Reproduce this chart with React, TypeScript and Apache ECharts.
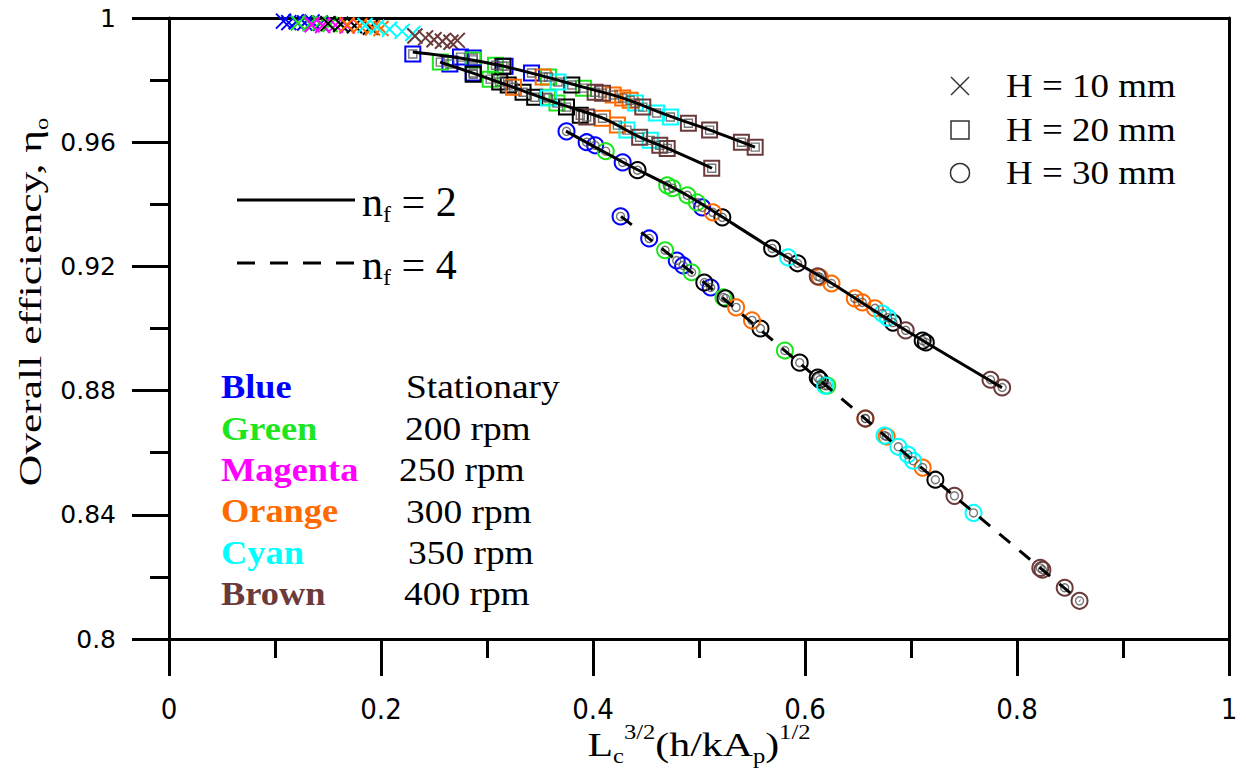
import { useEffect, useRef } from "react";
import * as echarts from "echarts";

type Pt = [number, number];

// ---------- axes ----------
const X_MIN = 0;
const X_MAX = 1;
const X_STEP = 0.2;
const Y_MIN = 0.8;
const Y_MAX = 1;
const Y_STEP = 0.04;

// ---------- legend texts ----------
const COLOR_NAMES = ["Blue", "Green", "Magenta", "Orange", "Cyan", "Brown"];
const SPEED_LABELS = ["Stationary", "200 rpm", "250 rpm", "300 rpm", "350 rpm", "400 rpm"];
const H_LABELS = ["H = 10 mm", "H = 20 mm", "H = 30 mm"];
const NF_LABELS = ["2", "4"];

const PALETTE: Record<string, string> = {
  Blue: "#0000ff",
  Green: "#1ee61e",
  Magenta: "#ff00ff",
  Orange: "#ff6a00",
  Cyan: "#00ffff",
  Brown: "#6b3a3a",
  Black: "#000000",
};

// ---------- H = 10 mm (crosses) ----------
const h10Blue: Pt[] = [[0.108, 0.999], [0.113, 0.9985], [0.12, 0.9988], [0.128, 0.9984], [0.135, 0.9987], [0.143, 0.9983]];
const h10Green: Pt[] = [[0.122, 0.9984], [0.133, 0.9981], [0.142, 0.9984], [0.152, 0.9979], [0.162, 0.9978]];
const h10Magenta: Pt[] = [[0.135, 0.9978], [0.145, 0.9976], [0.157, 0.9977], [0.168, 0.9974]];
const h10Black: Pt[] = [[0.15, 0.9982], [0.162, 0.998], [0.175, 0.9975], [0.19, 0.997]];
const h10Orange: Pt[] = [[0.168, 0.9978], [0.18, 0.9975], [0.192, 0.9968], [0.2, 0.9966]];
const h10Cyan: Pt[] = [[0.185, 0.9976], [0.196, 0.997], [0.208, 0.9964], [0.22, 0.9957], [0.23, 0.995]];
const h10Brown: Pt[] = [[0.232, 0.9942], [0.242, 0.9936], [0.25, 0.993], [0.258, 0.9925], [0.266, 0.9922], [0.272, 0.9928]];

// ---------- H = 20 mm (squares), upper band ----------
const h20aBlue: Pt[] = [[0.23, 0.9884], [0.275, 0.9874], [0.287, 0.9871], [0.317, 0.9845], [0.342, 0.9823]];
const h20aGreen: Pt[] = [[0.287, 0.9865], [0.308, 0.9848], [0.358, 0.981], [0.391, 0.9774]];
const h20aBlack: Pt[] = [[0.315, 0.9845], [0.38, 0.9784]];
const h20aOrange: Pt[] = [[0.353, 0.981], [0.419, 0.9752], [0.428, 0.9742], [0.435, 0.9735]];
const h20aCyan: Pt[] = [[0.367, 0.9794], [0.44, 0.9726], [0.46, 0.9694], [0.473, 0.9681]];
const h20aBrown: Pt[] = [[0.402, 0.9761], [0.409, 0.9758], [0.447, 0.9713], [0.49, 0.9661], [0.51, 0.9639], [0.54, 0.96], [0.553, 0.9584]];

// ---------- H = 20 mm (squares), lower band ----------
const h20bBlue: Pt[] = [[0.265, 0.9852], [0.287, 0.9823]];
const h20bGreen: Pt[] = [[0.256, 0.9858], [0.303, 0.9803], [0.357, 0.9745], [0.366, 0.9726]];
const h20bBlack: Pt[] = [[0.287, 0.9819], [0.312, 0.9794], [0.32, 0.9784], [0.334, 0.9761], [0.345, 0.9745], [0.375, 0.9713], [0.388, 0.9687]];
const h20bOrange: Pt[] = [[0.325, 0.9777], [0.409, 0.9677], [0.423, 0.9655]];
const h20bCyan: Pt[] = [[0.358, 0.9742], [0.432, 0.9639], [0.454, 0.9606]];
const h20bBrown: Pt[] = [[0.394, 0.9681], [0.444, 0.9616], [0.463, 0.959], [0.47, 0.958], [0.512, 0.9516]];

// ---------- H = 30 mm (circles), n_f = 2 ----------
const h30aBlue: Pt[] = [[0.375, 0.9635], [0.394, 0.96], [0.402, 0.959], [0.428, 0.9535], [0.503, 0.939]];
const h30aGreen: Pt[] = [[0.412, 0.9571], [0.47, 0.9461], [0.475, 0.9452], [0.489, 0.9429], [0.498, 0.9406]];
const h30aBlack: Pt[] = [[0.442, 0.951], [0.522, 0.9358], [0.569, 0.9258], [0.593, 0.921], [0.683, 0.9019], [0.711, 0.8961], [0.714, 0.8955]];
const h30aOrange: Pt[] = [[0.513, 0.9374], [0.614, 0.9165], [0.625, 0.9145], [0.647, 0.9097], [0.654, 0.9084], [0.666, 0.9065]];
const h30aCyan: Pt[] = [[0.584, 0.9229], [0.673, 0.9048], [0.678, 0.9035]];
const h30aBrown: Pt[] = [[0.612, 0.9168], [0.695, 0.8994], [0.775, 0.8835], [0.786, 0.881]];

// ---------- H = 30 mm (circles), n_f = 4 ----------
const h30bBlue: Pt[] = [[0.426, 0.9361], [0.453, 0.929], [0.479, 0.9219], [0.485, 0.9203], [0.511, 0.9132]];
const h30bGreen: Pt[] = [[0.468, 0.9252], [0.493, 0.9181], [0.523, 0.91], [0.581, 0.8929], [0.621, 0.8816]];
const h30bBlack: Pt[] = [[0.505, 0.9148], [0.525, 0.9097], [0.558, 0.9], [0.595, 0.889], [0.612, 0.8842], [0.614, 0.8835], [0.723, 0.8513]];
const h30bOrange: Pt[] = [[0.535, 0.9068], [0.55, 0.9026], [0.657, 0.871], [0.677, 0.8652], [0.711, 0.8552]];
const h30bCyan: Pt[] = [[0.619, 0.8816], [0.675, 0.8655], [0.688, 0.8619], [0.697, 0.8594], [0.702, 0.8574], [0.759, 0.8406]];
const h30bBrown: Pt[] = [[0.657, 0.871], [0.741, 0.8461], [0.822, 0.8229], [0.824, 0.8223], [0.845, 0.8165], [0.859, 0.8123]];

// ---------- model curves ----------
const lineH20a: Pt[] = [[0.23, 0.98903], [0.2745, 0.9871], [0.3151, 0.98452], [0.3528, 0.98129], [0.3906, 0.97774], [0.4283, 0.97419], [0.4726, 0.96839], [0.5104, 0.96387], [0.5528, 0.95839]];
const lineH20b: Pt[] = [[0.2557, 0.98581], [0.2868, 0.98226], [0.3245, 0.97774], [0.366, 0.97258], [0.4094, 0.96774], [0.4443, 0.96161], [0.4698, 0.95806], [0.5123, 0.95161]];
const lineH30a: Pt[] = [[0.3745, 0.96355], [0.4283, 0.95355], [0.4887, 0.9429], [0.5689, 0.92581], [0.6255, 0.91452], [0.683, 0.90194], [0.7858, 0.88097]];
const lineH30b: Pt[] = [[0.4264, 0.93613], [0.5047, 0.91484], [0.5953, 0.88871], [0.6566, 0.87097], [0.7406, 0.84613], [0.8594, 0.81226]];

const CROSS = "path://M0 0L10 10M10 0L0 10";
const SERIF = "'Liberation Serif', 'Times New Roman', serif";

type Group = { sym: string; size: number; bw: number; inner: boolean; sets: [string, Pt[]][] };

const GROUPS: Group[] = [
  { sym: CROSS, size: 15, bw: 2, inner: false, sets: [["Blue", h10Blue], ["Green", h10Green], ["Magenta", h10Magenta], ["Black", h10Black], ["Orange", h10Orange], ["Cyan", h10Cyan], ["Brown", h10Brown]] },
  { sym: "rect", size: 15, bw: 2, inner: true, sets: [["Blue", h20aBlue], ["Green", h20aGreen], ["Black", h20aBlack], ["Orange", h20aOrange], ["Cyan", h20aCyan], ["Brown", h20aBrown]] },
  { sym: "rect", size: 15, bw: 2, inner: true, sets: [["Blue", h20bBlue], ["Green", h20bGreen], ["Black", h20bBlack], ["Orange", h20bOrange], ["Cyan", h20bCyan], ["Brown", h20bBrown]] },
  { sym: "circle", size: 16, bw: 2, inner: true, sets: [["Blue", h30aBlue], ["Green", h30aGreen], ["Black", h30aBlack], ["Orange", h30aOrange], ["Cyan", h30aCyan], ["Brown", h30aBrown]] },
  { sym: "circle", size: 16, bw: 2, inner: true, sets: [["Blue", h30bBlue], ["Green", h30bGreen], ["Black", h30bBlack], ["Orange", h30bOrange], ["Cyan", h30bCyan], ["Brown", h30bBrown]] },
];

const LINES: { data: Pt[]; dashed: boolean }[] = [
  { data: lineH20a, dashed: false },
  { data: lineH20b, dashed: false },
  { data: lineH30a, dashed: false },
  { data: lineH30b, dashed: true },
];

function txt(x: number, y: number, style: any, extra: any = {}) {
  return {
    type: "text",
    x,
    y,
    ...extra,
    style: {
      fill: "#000",
      align: "left",
      verticalAlign: "middle",
      textAlign: "left",
      textVerticalAlign: "middle",
      ...style,
    },
  };
}

function buildOption() {
  const series: any[] = [];
  GROUPS.forEach((g, gi) => {
    g.sets.forEach(([cname, pts]) => {
      series.push({
        type: "scatter",
        name: `g${gi}-${cname}`,
        data: pts,
        symbol: g.sym,
        symbolSize: g.size,
        z: 2,
        itemStyle: { color: "transparent", borderColor: PALETTE[cname], borderWidth: g.bw, opacity: 1 },
      });
    });
    if (g.inner) {
      series.push({
        type: "scatter",
        name: `g${gi}-inner`,
        data: g.sets.flatMap((s) => s[1]),
        symbol: g.sym,
        symbolSize: 8,
        z: 3,
        itemStyle: { color: "transparent", borderColor: "#555555", borderWidth: 1.4 },
      });
    }
  });
  LINES.forEach((l, i) => {
    series.push({
      type: "line",
      name: `model-${i}`,
      data: l.data,
      showSymbol: false,
      symbol: "none",
      smooth: 0.3,
      z: 4,
      lineStyle: { color: "#000", width: 3, type: l.dashed ? [14, 12] : "solid" },
    });
  });

  const graphic: any[] = [];
  // y axis title
  graphic.push(
    txt(
      30,
      302,
      {
        text: "{m|Overall efficiency, η}{s|o}",
        align: "center",
        textAlign: "center",
        fontFamily: SERIF,
        fontSize: 32,
        rich: {
          m: { fontFamily: SERIF, fontSize: 32, lineHeight: 42, fill: "#000" },
          s: { fontFamily: SERIF, fontSize: 18, lineHeight: 12, verticalAlign: "bottom", fill: "#000" },
        },
      },
      { rotation: Math.PI / 2, scaleX: 1.36 }
    )
  );
  // x axis title
  graphic.push(
    txt(
      699,
      744,
      {
        text: "{m|L}{sub|c}{sup|3/2}{m|(h/kA}{sub|p}{m|)}{sup|1/2}",
        align: "center",
        textAlign: "center",
        fontFamily: SERIF,
        fontSize: 34,
        rich: {
          m: { fontFamily: SERIF, fontSize: 34, lineHeight: 44, fill: "#000" },
          sub: { fontFamily: SERIF, fontSize: 20, lineHeight: 12, verticalAlign: "bottom", fill: "#000" },
          sup: { fontFamily: SERIF, fontSize: 20, lineHeight: 34, verticalAlign: "top", fill: "#000" },
        },
      },
      { scaleX: 1.23 }
    )
  );
  // H legend (top right)
  const hy = [86, 130, 173];
  const symStyle = { stroke: "#333", lineWidth: 1.5, fill: "none" };
  graphic.push({ type: "line", shape: { x1: 951, y1: 77, x2: 969, y2: 95 }, style: symStyle });
  graphic.push({ type: "line", shape: { x1: 969, y1: 77, x2: 951, y2: 95 }, style: symStyle });
  graphic.push({ type: "rect", shape: { x: 951, y: 121, width: 18, height: 18 }, style: symStyle });
  graphic.push({ type: "circle", shape: { cx: 960, cy: 173, r: 9.5 }, style: symStyle });
  H_LABELS.forEach((t, i) => {
    graphic.push(txt(1006, hy[i], { text: t, fontFamily: SERIF, fontSize: 33 }, { scaleX: 1.12 }));
  });
  // n_f legend
  const ny = [200, 263];
  graphic.push({ type: "line", shape: { x1: 237, y1: ny[0], x2: 355, y2: ny[0] }, style: { stroke: "#000", lineWidth: 3 } });
  graphic.push({ type: "line", shape: { x1: 237, y1: ny[1], x2: 355, y2: ny[1] }, style: { stroke: "#000", lineWidth: 3, lineDash: [18, 15] } });
  NF_LABELS.forEach((v, i) => {
    graphic.push(
      txt(362, ny[i] + 2, {
        text: `{m|n}{s|f}{m| = ${v}}`,
        fontFamily: SERIF,
        fontSize: 42,
        rich: {
          m: { fontFamily: SERIF, fontSize: 42, lineHeight: 48, fill: "#000" },
          s: { fontFamily: SERIF, fontSize: 24, lineHeight: 14, verticalAlign: "bottom", fill: "#000" },
        },
      })
    );
  });
  // colour legend
  const cy0 = 387;
  const cdy = 41.4;
  const rightX = [406, 405, 399, 406, 408, 404];
  COLOR_NAMES.forEach((c, i) => {
    graphic.push(txt(221, cy0 + i * cdy, { text: c, fontFamily: SERIF, fontWeight: "bold", fontSize: 34, fill: PALETTE[c] }, { scaleX: 1.07 }));
    graphic.push(txt(rightX[i], cy0 + i * cdy, { text: SPEED_LABELS[i], fontFamily: SERIF, fontSize: 34 }, { scaleX: 1.1 }));
  });

  const axisLine = { show: true, onZero: false, lineStyle: { color: "#000", width: 3 } };

  return {
    animation: false,
    backgroundColor: "#fff",
    grid: { left: 169, right: 17, top: 18, bottom: 130, containLabel: false },
    xAxis: [
      {
        type: "value",
        min: X_MIN,
        max: X_MAX,
        interval: X_STEP,
        position: "bottom",
        axisLine,
        axisTick: { show: true, inside: false, length: 37, lineStyle: { color: "#000", width: 3 } },
        minorTick: { show: true, splitNumber: 2, length: 19, lineStyle: { color: "#000", width: 3 } },
        splitLine: { show: false },
        axisLabel: {
          margin: 55,
          color: "#000",
          fontSize: 29,
          fontFamily: "'Liberation Sans Narrow', 'DejaVu Sans Condensed', 'Arial Narrow', sans-serif",
        },
      },
      {
        type: "value",
        min: X_MIN,
        max: X_MAX,
        position: "top",
        axisLine,
        axisTick: { show: false },
        axisLabel: { show: false },
        splitLine: { show: false },
      },
    ],
    yAxis: [
      {
        type: "value",
        min: Y_MIN,
        max: Y_MAX,
        interval: Y_STEP,
        position: "left",
        axisLine,
        axisTick: { show: true, inside: false, length: 37, lineStyle: { color: "#000", width: 3 } },
        minorTick: { show: true, splitNumber: 2, length: 19, lineStyle: { color: "#000", width: 3 } },
        splitLine: { show: false },
        axisLabel: { margin: 53, color: "#000", fontSize: 25, fontFamily: "'DejaVu Sans', sans-serif" },
      },
      {
        type: "value",
        min: Y_MIN,
        max: Y_MAX,
        position: "right",
        axisLine,
        axisTick: { show: false },
        axisLabel: { show: false },
        splitLine: { show: false },
      },
    ],
    series,
    graphic,
  };
}

export default function App() {
  const ref = useRef<HTMLDivElement>(null);
  useEffect(() => {
    if (!ref.current) return;
    const chart = echarts.init(ref.current, null, { renderer: "svg" });
    chart.setOption(buildOption() as any);
    return () => chart.dispose();
  }, []);
  return (
    <div
      ref={ref}
      style={{ position: "absolute", left: 0, top: 0, width: 1246, height: 769, background: "#fff" }}
    />
  );
}
